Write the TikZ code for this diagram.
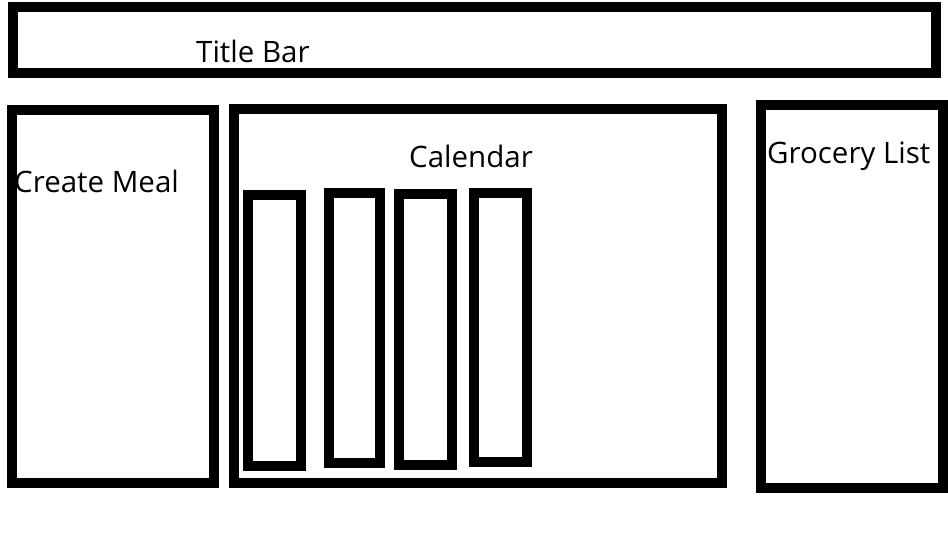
\documentclass[tikz,border=0pt]{standalone}
\usepackage{fontspec}
\setmainfont{Open Sans}
\usetikzlibrary{positioning}

\begin{document}
\begin{tikzpicture}[
    x=1pt, y=-1pt,
    panel/.style={draw, line width=10pt, inner sep=0pt},
    daycol/.style={draw, line width=10pt, inner sep=0pt},
    label/.style={inner sep=0pt, anchor=base west, font=\fontsize{29.5}{34}\selectfont},
]
\useasboundingbox (0,0) rectangle (948,548);

% Panels
\node[panel, minimum width=923pt, minimum height=66pt] (titlebar) at (474.5,40) {};
\node[panel, minimum width=201.5pt, minimum height=372.5pt] (createmeal) at (112.75,296.25) {};
\node[panel, minimum width=488.5pt, minimum height=374pt] (calendar) at (477.75,296) {};
\node[panel, minimum width=182pt, minimum height=383pt] (grocerylist) at (852,296.5) {};

% Day columns
\node[daycol, minimum width=53pt, minimum height=271pt] (dayone) at (274.5,330.5) {};
\node[daycol, minimum width=51pt, minimum height=270pt] (daytwo) at (354.5,328) {};
\node[daycol, minimum width=53pt, minimum height=271pt] (daythree) at (425.5,329.5) {};
\node[daycol, minimum width=53pt, minimum height=269pt] (dayfour) at (500.5,327.5) {};

% Labels
\node[label] (titletext) at (196,63) {Title Bar};
\node[label] (calendartext) at (409,168) {Calendar};
\node[label] (mealtext) at (14,193) {Create Meal};
\node[label] (grocerytext) at (767,164) {Grocery List};

\end{tikzpicture}
\end{document}
